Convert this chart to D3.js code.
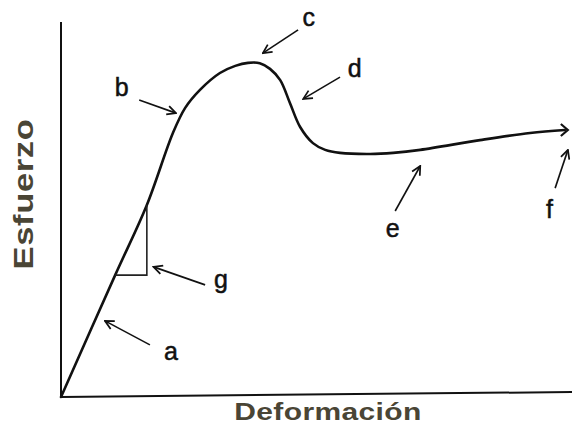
<!DOCTYPE html>
<html><head><meta charset="utf-8">
<script src="https://cdn.jsdelivr.net/npm/d3@7"></script>
<style>body{margin:0;background:#fff}svg{display:block}</style>
</head><body>
<script>
// strain (x) and stress (y) of the curve, arbitrary units 0..100
const strain = [0, 10.6, 16.8, 21.9, 24.3, 27.2, 31.1, 34.1, 36.6, 38.9, 40.9, 42.9, 44.8, 46.8, 49.3, 51.7, 54.6, 60.5, 65.0, 70.3, 82.0, 91.8, 98.6];
const stress = [0, 32.5, 51.2, 70.4, 77.1, 81.9, 86.4, 88.3, 89.1, 89.0, 87.5, 84.5, 78.4, 72.0, 67.7, 65.9, 65.1, 64.8, 65.1, 65.9, 68.5, 70.4, 71.2];
// slope triangle corners
const triX = [10.6, 16.8, 16.8];
const triY = [32.5, 32.5, 51.2];
// annotation labels: label position, arrow start, arrow tip (data units)
const labels = ["a", "b", "c", "d", "e", "f", "g"];
const labelX = [21.5, 11.9, 48.5, 57.5, 64.9, 95.6, 31.3];
const labelY = [11.7, 81.9, 100.8, 87.2, 44.5, 49.6, 30.9];
const fromX = [17.4, 15.3, 46.4, 54.6, 65.4, 96.7, 28.2];
const fromY = [13.9, 79.2, 97.9, 85.3, 49.6, 55.7, 29.9];
const toX = [8.6, 22.5, 39.5, 47.4, 70.3, 99.2, 18.1];
const toY = [20.3, 75.7, 91.7, 79.5, 61.6, 65.9, 34.7];
const xTitle = "Deformación", yTitle = "Esfuerzo";

const W = 574, H = 425;
const svg = d3.select("body").append("svg").attr("width", W).attr("height", H);
const x = d3.scaleLinear().domain([0, 100]).range([61, 572]);
const y = d3.scaleLinear().domain([0, 100]).range([397, 22]);

const defs = svg.append("defs");
defs.append("marker").attr("id", "ah").attr("viewBox", "0 0 10 10").attr("refX", 9).attr("refY", 5)
  .attr("markerWidth", 11).attr("markerHeight", 11).attr("markerUnits", "userSpaceOnUse").attr("orient", "auto")
  .append("path").attr("d", "M1,1 L9,5 L1,9").attr("fill", "none").attr("stroke", "#111").attr("stroke-width", 1.6);

// axes (plain lines, no ticks)
svg.append("line").attr("x1", x(0)).attr("x2", x(0)).attr("y1", y(100)).attr("y2", y(0))
  .attr("stroke", "#111").attr("stroke-width", 2);
svg.append("line").attr("x1", x(0)).attr("x2", x(100)).attr("y1", y(0)).attr("y2", y(0) - 5)
  .attr("stroke", "#111").attr("stroke-width", 2);

const pts = strain.map((s, i) => [s, stress[i]]);
svg.append("path").datum(pts)
  .attr("d", d3.line().x(d => x(d[0])).y(d => y(d[1])).curve(d3.curveCatmullRom.alpha(0.5)))
  .attr("fill", "none").attr("stroke", "#111").attr("stroke-width", 2.6)
  .attr("stroke-linejoin", "round").attr("stroke-linecap", "round");
// end chevron
const n = strain.length - 1;
svg.append("path")
  .attr("d", `M${x(strain[n]) - 4},${y(stress[n]) - 6} L${x(strain[n]) + 3},${y(stress[n])} L${x(strain[n]) - 4},${y(stress[n]) + 6}`)
  .attr("fill", "none").attr("stroke", "#111").attr("stroke-width", 2.2);

// triangle
svg.append("path").datum(triX.map((v, i) => [v, triY[i]]))
  .attr("d", d3.line().x(d => x(d[0])).y(d => y(d[1])))
  .attr("fill", "none").attr("stroke", "#222").attr("stroke-width", 1.6);

// annotation arrows
labels.forEach((l, i) => {
  svg.append("line").attr("x1", x(fromX[i])).attr("y1", y(fromY[i])).attr("x2", x(toX[i])).attr("y2", y(toY[i]))
    .attr("stroke", "#111").attr("stroke-width", 1.6).attr("marker-end", "url(#ah)");
  svg.append("text").attr("x", x(labelX[i])).attr("y", y(labelY[i])).attr("text-anchor", "middle")
    .attr("dominant-baseline", "middle").attr("font-family", "Liberation Sans, Arial, sans-serif")
    .attr("font-size", 25).attr("fill", "#111").attr("stroke", "#111").attr("stroke-width", 0.5).text(l);
});

// titles (wide bold lettering)
svg.append("text").attr("transform", "translate(328,420) scale(1.25,1)").attr("text-anchor", "middle")
  .attr("font-family", "Liberation Sans, Arial, sans-serif").attr("font-weight", "bold")
  .attr("font-size", 24).attr("letter-spacing", 0.3).attr("fill", "#4a4535").text(xTitle);
svg.append("text").attr("transform", "translate(33,194) rotate(-90) scale(1.28,1)").attr("text-anchor", "middle")
  .attr("font-family", "Liberation Sans, Arial, sans-serif").attr("font-weight", "bold")
  .attr("font-size", 27).attr("letter-spacing", 0.5).attr("fill", "#4a4535").text(yTitle);
</script>
</body></html>
